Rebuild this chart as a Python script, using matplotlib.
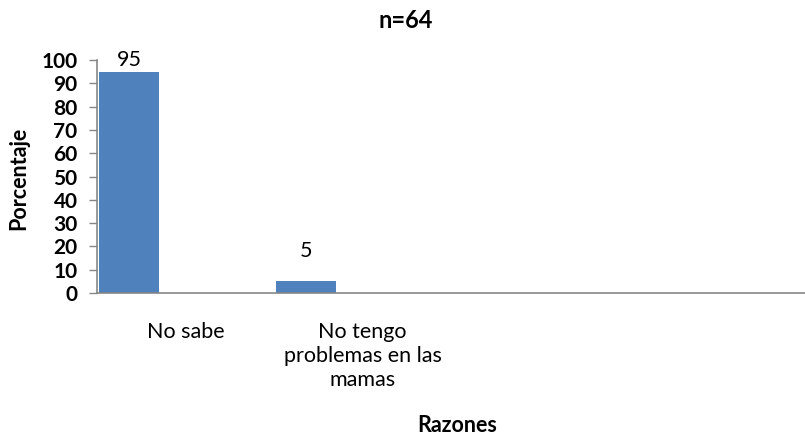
import matplotlib
matplotlib.use("Agg")
import matplotlib.pyplot as plt
import numpy as np

# Datos
razones = ["No sabe", "No tengo\nproblemas en las\nmamas", "", ""]
porcentaje = [95, 5, 0, 0]
yticks = [0, 10, 20, 30, 40, 50, 60, 70, 80, 90, 100]
# separación de cada etiqueta sobre su barra (puntos)
sep_etiqueta = [1.5, 15]

plt.rcParams['font.family'] = ['Lato', 'DejaVu Sans']

fig = plt.figure(figsize=(8.05, 4.41), dpi=100)
ax = fig.add_axes([0.1205, 0.3356, 0.8795, 0.5283])

x = np.arange(len(razones))
bars = ax.bar(x[:2] + 0.011, porcentaje[:2], width=0.34, align='edge',
              color='#4F81BD', zorder=2)
for b, v, d in zip(bars, porcentaje[:2], sep_etiqueta):
    ax.annotate(str(v), (b.get_x() + b.get_width() / 2, v), xytext=(0, d),
                textcoords='offset points', ha='center', va='bottom',
                fontsize=15.5, color='black')

ax.set_xlim(0, len(razones))
ax.set_ylim(0, 100)
ax.set_yticks(yticks)
ax.set_yticklabels([str(t) for t in yticks], fontsize=15, fontweight='bold')
ax.set_xticks(x + 0.5)
ax.set_xticklabels(razones, fontsize=15.5, linespacing=1.25, va='top')
ax.tick_params(axis='x', length=0, pad=21)
ax.tick_params(axis='y', length=6, width=1, color='#868686', pad=8)

for s in ['top', 'right']:
    ax.spines[s].set_visible(False)
for s in ['left', 'bottom']:
    ax.spines[s].set_color('#868686')
    ax.spines[s].set_linewidth(1.2)

fig.text(19 / 805, 1 - 178 / 441, "Porcentaje", rotation=90, ha='center', va='center',
         fontsize=15.5, fontweight='bold')
fig.text(457 / 805, 1 - 425 / 441, "Razones", ha='center', va='center',
         fontsize=15.5, fontweight='bold')
fig.text(406 / 805, 1 - 21 / 441, "n=64", ha='center', va='center',
         fontsize=17, fontweight='bold')

fig.savefig("out.png", dpi=100)
